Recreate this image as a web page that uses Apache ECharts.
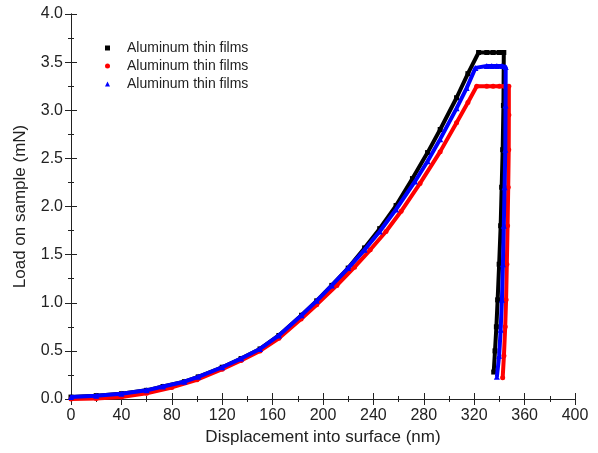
<!DOCTYPE html>
<html>
<head>
<meta charset="utf-8">
<script src="https://cdn.jsdelivr.net/npm/echarts@6/dist/echarts.min.js"></script>
<style>
html,body{margin:0;padding:0;background:#fff;}
#chart{width:598px;height:453px;}
</style>
</head>
<body>
<div id="chart"></div>
<script>
// Displacement (nm) and load (mN)
var blackX = [0, 20, 40, 60, 73, 90, 101, 120, 135, 150, 165, 183, 195, 207, 220, 233, 245, 258, 271, 283, 293, 306, 315, 323.5, 330, 335, 340, 343.5, 343.2, 342.6, 341.8, 341, 339.8, 338.6, 337.6, 336.5, 335.5];
var blackY = [0.02, 0.035, 0.055, 0.09, 0.13, 0.18, 0.23, 0.33, 0.42, 0.52, 0.66, 0.87, 1.02, 1.18, 1.36, 1.57, 1.77, 2.01, 2.29, 2.56, 2.80, 3.13, 3.38, 3.60, 3.60, 3.60, 3.60, 3.60, 3.05, 2.59, 2.20, 1.80, 1.40, 1.03, 0.75, 0.50, 0.28];

var redX = [0, 20, 40, 60, 80, 100, 120, 135, 150, 165, 182.6, 195, 211, 225, 237.5, 250, 262, 277, 293, 306, 315, 322, 330, 335, 340, 344, 347.5, 347.5, 347.4, 347, 346.5, 345.9, 345.3, 344.6, 343.6, 342.6];
var redY = [0.00, 0.005, 0.02, 0.06, 0.12, 0.20, 0.31, 0.40, 0.50, 0.63, 0.83, 0.98, 1.18, 1.37, 1.55, 1.74, 1.95, 2.24, 2.57, 2.87, 3.08, 3.25, 3.25, 3.25, 3.25, 3.25, 3.25, 2.95, 2.59, 2.20, 1.80, 1.40, 1.03, 0.75, 0.45, 0.22];

var blueX = [0, 20, 40, 60, 73, 90, 101, 120, 135, 150, 165, 183, 195, 207, 220, 233, 245, 258, 273, 283, 293, 306, 314, 321, 330, 334, 338, 342, 345, 344.9, 344.7, 344.1, 343.5, 342.8, 342, 341, 339.8, 338];
var blueY = [0.02, 0.035, 0.055, 0.09, 0.13, 0.18, 0.23, 0.33, 0.42, 0.52, 0.66, 0.87, 1.02, 1.18, 1.36, 1.55, 1.74, 1.97, 2.26, 2.47, 2.70, 3.02, 3.23, 3.44, 3.46, 3.46, 3.46, 3.46, 3.45, 3.05, 2.59, 2.20, 1.80, 1.40, 1.03, 0.72, 0.45, 0.23];

var xTicks = {min: 0, max: 400, interval: 40};
var yTicks = {min: 0, max: 4, interval: 0.5};
var seriesLabel = 'Aluminum thin films';

function pairs(xs, ys) { return xs.map(function (x, i) { return [x, ys[i]]; }); }

var font = 'Liberation Sans, Arial, sans-serif';
var axisLine = {show: true, lineStyle: {color: '#222', width: 1}};
var tickIn = {show: true, inside: true, length: 6, lineStyle: {color: '#222'}};
var minorIn = {show: true, splitNumber: 2, length: 3, lineStyle: {color: '#222'}};

var chart = echarts.init(document.getElementById('chart'), null, {renderer: 'canvas'});
chart.setOption({
  animation: false,
  backgroundColor: '#fff',
  grid: {left: 71, right: 23, top: 14, bottom: 54, containLabel: false},
  legend: {
    orient: 'vertical',
    left: 100,
    top: 36,
    itemGap: 4,
    itemWidth: 5,
    itemHeight: 5,
    formatter: function () { return seriesLabel; },
    textStyle: {fontFamily: font, fontSize: 14, color: '#222', padding: [0, 0, 0, 12]},
    data: [
      {name: 's1', icon: 'rect'},
      {name: 's2', icon: 'circle'},
      {name: 's3', icon: 'triangle'}
    ]
  },
  xAxis: [{
    type: 'value', min: xTicks.min, max: xTicks.max, interval: xTicks.interval,
    name: 'Displacement into surface (nm)', nameLocation: 'middle', nameGap: 29,
    nameTextStyle: {fontFamily: font, fontSize: 17, color: '#222'},
    axisLine: axisLine, axisTick: tickIn, minorTick: minorIn,
    splitLine: {show: false},
    axisLabel: {fontFamily: font, fontSize: 16, color: '#222', margin: 9}
  }, {
    type: 'value', position: 'top', min: xTicks.min, max: xTicks.max, interval: xTicks.interval,
    axisLine: axisLine, axisTick: tickIn, minorTick: minorIn,
    splitLine: {show: false}, axisLabel: {show: false}
  }],
  yAxis: [{
    type: 'value', min: yTicks.min, max: yTicks.max, interval: yTicks.interval,
    name: 'Load on sample (mN)', nameLocation: 'middle', nameGap: 42,
    nameTextStyle: {fontFamily: font, fontSize: 17, color: '#222'},
    axisLine: axisLine, axisTick: tickIn, minorTick: minorIn,
    splitLine: {show: false},
    axisLabel: {fontFamily: font, fontSize: 16, color: '#222', margin: 8,
      formatter: function (v) { return v.toFixed(1); }}
  }, {
    type: 'value', position: 'right', min: yTicks.min, max: yTicks.max, interval: yTicks.interval,
    axisLine: axisLine, axisTick: tickIn, minorTick: minorIn,
    splitLine: {show: false}, axisLabel: {show: false}
  }],
  series: [
    {name: 's1', type: 'line', z: 2, data: pairs(blackX, blackY), color: '#000000',
      symbol: 'rect', symbolSize: 5, showAllSymbol: true,
      lineStyle: {width: 4, color: '#000000'}, itemStyle: {color: '#000000'}},
    {name: 's2', type: 'line', z: 3, data: pairs(redX, redY), color: '#ff0000',
      symbol: 'circle', symbolSize: 5, showAllSymbol: true,
      lineStyle: {width: 4, color: '#ff0000'}, itemStyle: {color: '#ff0000'}},
    {name: 's3', type: 'line', z: 4, data: pairs(blueX, blueY), color: '#0000ff',
      symbol: 'triangle', symbolSize: 6, showAllSymbol: true,
      lineStyle: {width: 4, color: '#0000ff'}, itemStyle: {color: '#0000ff'}}
  ]
});
</script>
</body>
</html>
